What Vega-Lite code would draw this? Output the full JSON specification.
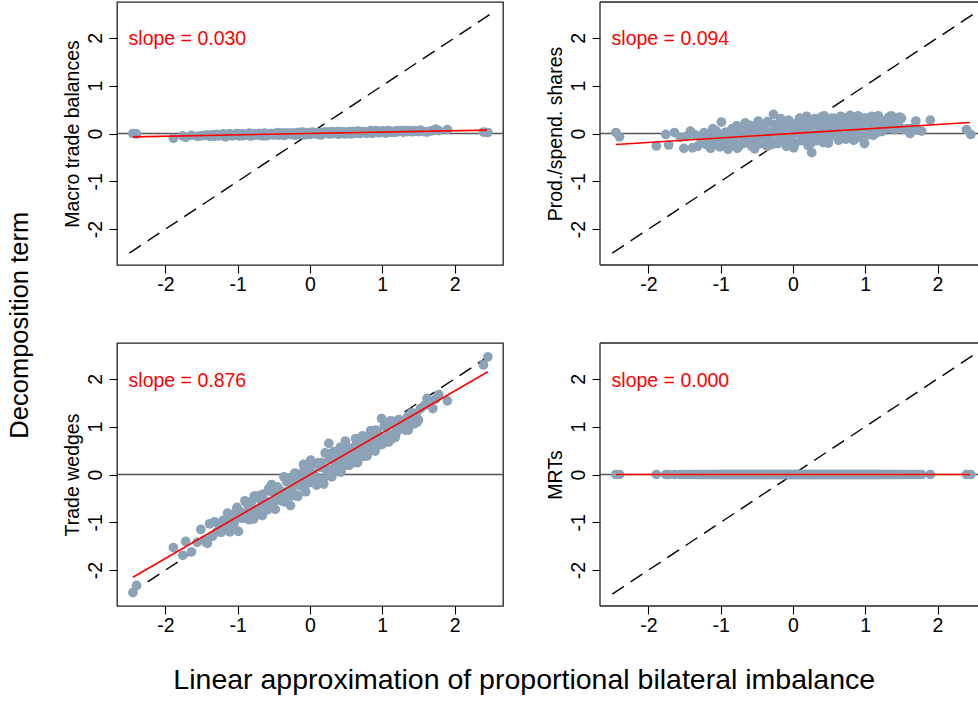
{
  "$schema": "https://vega.github.io/schema/vega-lite/v6.json",
  "padding": {"left": 7, "top": 1, "right": 0, "bottom": 4},
  "title": {"text": "Linear approximation of proportional bilateral imbalance", "orient": "bottom", "anchor": "middle", "fontSize": 28.5, "fontWeight": "normal", "font": "Liberation Sans", "color": "#000000", "offset": 31, "dx": 31},
  "datasets": {
    "pts": [
      {"x":-2.45,"a":0.00,"b":0.02,"c":-2.47,"d":0},
      {"x":-2.40,"a":-0.01,"b":-0.07,"c":-2.32,"d":0},
      {"x":-1.89,"a":-0.10,"b":-0.26,"c":-1.53,"d":0},
      {"x":-1.76,"a":-0.05,"b":-0.02,"c":-1.69,"d":0},
      {"x":-1.72,"a":-0.08,"b":-0.24,"c":-1.40,"d":0},
      {"x":-1.64,"a":-0.04,"b":0.02,"c":-1.62,"d":0},
      {"x":-1.56,"a":-0.06,"b":-0.08,"c":-1.42,"d":0},
      {"x":-1.51,"a":-0.05,"b":-0.31,"c":-1.15,"d":0},
      {"x":-1.46,"a":-0.04,"b":-0.05,"c":-1.37,"d":0},
      {"x":-1.42,"a":-0.03,"b":0.05,"c":-1.44,"d":0},
      {"x":-1.39,"a":-0.06,"b":-0.30,"c":-1.03,"d":0},
      {"x":-1.35,"a":-0.03,"b":-0.03,"c":-1.29,"d":0},
      {"x":-1.32,"a":-0.06,"b":-0.27,"c":-0.99,"d":0},
      {"x":-1.29,"a":-0.02,"b":-0.07,"c":-1.20,"d":0},
      {"x":-1.26,"a":-0.05,"b":-0.17,"c":-1.04,"d":0},
      {"x":-1.24,"a":-0.03,"b":-0.12,"c":-1.09,"d":0},
      {"x":-1.23,"a":-0.04,"b":0.02,"c":-1.21,"d":0},
      {"x":-1.20,"a":-0.01,"b":-0.23,"c":-0.96,"d":0},
      {"x":-1.18,"a":-0.05,"b":-0.03,"c":-1.10,"d":0},
      {"x":-1.17,"a":-0.07,"b":-0.09,"c":-1.01,"d":0},
      {"x":-1.14,"a":-0.02,"b":-0.31,"c":-0.81,"d":0},
      {"x":-1.12,"a":-0.01,"b":-0.21,"c":-0.90,"d":0},
      {"x":-1.11,"a":-0.01,"b":0.10,"c":-1.20,"d":0},
      {"x":-1.08,"a":-0.05,"b":-0.12,"c":-0.91,"d":0},
      {"x":-1.06,"a":-0.03,"b":0.05,"c":-1.08,"d":0},
      {"x":-1.05,"a":-0.03,"b":-0.02,"c":-1.00,"d":0},
      {"x":-1.02,"a":0.00,"b":-0.26,"c":-0.76,"d":0},
      {"x":-1.01,"a":-0.04,"b":-0.28,"c":-0.69,"d":0},
      {"x":-0.99,"a":-0.04,"b":0.24,"c":-1.19,"d":0},
      {"x":-0.98,"a":-0.05,"b":-0.15,"c":-0.78,"d":0},
      {"x":-0.96,"a":-0.01,"b":-0.17,"c":-0.78,"d":0},
      {"x":-0.95,"a":-0.01,"b":-0.03,"c":-0.91,"d":0},
      {"x":-0.93,"a":-0.05,"b":0.03,"c":-0.91,"d":0},
      {"x":-0.92,"a":-0.02,"b":0.01,"c":-0.91,"d":0},
      {"x":-0.90,"a":-0.02,"b":-0.33,"c":-0.55,"d":0},
      {"x":-0.89,"a":-0.03,"b":-0.29,"c":-0.57,"d":0},
      {"x":-0.87,"a":-0.03,"b":-0.04,"c":-0.80,"d":0},
      {"x":-0.86,"a":-0.01,"b":-0.22,"c":-0.63,"d":0},
      {"x":-0.84,"a":0.01,"b":0.10,"c":-0.95,"d":0},
      {"x":-0.83,"a":-0.05,"b":0.06,"c":-0.84,"d":0},
      {"x":-0.81,"a":-0.05,"b":-0.19,"c":-0.57,"d":0},
      {"x":-0.80,"a":-0.03,"b":-0.06,"c":-0.71,"d":0},
      {"x":-0.78,"a":-0.01,"b":0.16,"c":-0.93,"d":0},
      {"x":-0.77,"a":-0.01,"b":-0.31,"c":-0.45,"d":0},
      {"x":-0.75,"a":-0.03,"b":-0.27,"c":-0.45,"d":0},
      {"x":-0.74,"a":-0.02,"b":0.13,"c":-0.85,"d":0},
      {"x":-0.72,"a":0.00,"b":0.00,"c":-0.72,"d":0},
      {"x":-0.71,"a":0.00,"b":0.12,"c":-0.83,"d":0},
      {"x":-0.69,"a":-0.04,"b":-0.21,"c":-0.44,"d":0},
      {"x":-0.68,"a":0.00,"b":-0.14,"c":-0.54,"d":0},
      {"x":-0.66,"a":-0.02,"b":0.22,"c":-0.86,"d":0},
      {"x":-0.65,"a":-0.05,"b":-0.19,"c":-0.41,"d":0},
      {"x":-0.63,"a":0.01,"b":-0.09,"c":-0.55,"d":0},
      {"x":-0.62,"a":-0.03,"b":0.00,"c":-0.59,"d":0},
      {"x":-0.60,"a":-0.05,"b":0.09,"c":-0.64,"d":0},
      {"x":-0.59,"a":-0.02,"b":0.17,"c":-0.74,"d":0},
      {"x":-0.57,"a":-0.01,"b":-0.27,"c":-0.29,"d":0},
      {"x":-0.56,"a":-0.01,"b":-0.21,"c":-0.34,"d":0},
      {"x":-0.54,"a":0.00,"b":0.05,"c":-0.59,"d":0},
      {"x":-0.53,"a":0.00,"b":-0.32,"c":-0.21,"d":0},
      {"x":-0.51,"a":-0.03,"b":-0.12,"c":-0.36,"d":0},
      {"x":-0.50,"a":-0.02,"b":0.09,"c":-0.57,"d":0},
      {"x":-0.48,"a":-0.01,"b":0.26,"c":-0.73,"d":0},
      {"x":-0.47,"a":-0.02,"b":0.07,"c":-0.52,"d":0},
      {"x":-0.45,"a":0.02,"b":-0.21,"c":-0.26,"d":0},
      {"x":-0.44,"a":-0.03,"b":-0.05,"c":-0.36,"d":0},
      {"x":-0.42,"a":-0.03,"b":-0.03,"c":-0.36,"d":0},
      {"x":-0.41,"a":0.00,"b":-0.07,"c":-0.34,"d":0},
      {"x":-0.39,"a":0.00,"b":0.16,"c":-0.55,"d":0},
      {"x":-0.38,"a":0.01,"b":0.05,"c":-0.44,"d":0},
      {"x":-0.36,"a":-0.04,"b":-0.27,"c":-0.05,"d":0},
      {"x":-0.35,"a":-0.03,"b":0.25,"c":-0.57,"d":0},
      {"x":-0.33,"a":0.01,"b":0.03,"c":-0.37,"d":0},
      {"x":-0.32,"a":-0.01,"b":-0.15,"c":-0.16,"d":0},
      {"x":-0.30,"a":-0.01,"b":-0.15,"c":-0.14,"d":0},
      {"x":-0.29,"a":0.01,"b":-0.23,"c":-0.07,"d":0},
      {"x":-0.27,"a":-0.02,"b":0.40,"c":-0.65,"d":0},
      {"x":-0.26,"a":0.00,"b":0.19,"c":-0.45,"d":0},
      {"x":-0.24,"a":0.01,"b":0.15,"c":-0.40,"d":0},
      {"x":-0.23,"a":-0.01,"b":0.03,"c":-0.25,"d":0},
      {"x":-0.21,"a":-0.03,"b":-0.21,"c":0.03,"d":0},
      {"x":-0.20,"a":-0.03,"b":-0.02,"c":-0.15,"d":0},
      {"x":-0.18,"a":0.02,"b":0.23,"c":-0.43,"d":0},
      {"x":-0.17,"a":-0.02,"b":0.31,"c":-0.46,"d":0},
      {"x":-0.15,"a":-0.01,"b":-0.06,"c":-0.08,"d":0},
      {"x":-0.14,"a":0.02,"b":0.05,"c":-0.21,"d":0},
      {"x":-0.12,"a":0.01,"b":0.11,"c":-0.24,"d":0},
      {"x":-0.11,"a":0.03,"b":-0.15,"c":0.01,"d":0},
      {"x":-0.09,"a":-0.03,"b":-0.27,"c":0.21,"d":0},
      {"x":-0.08,"a":0.00,"b":-0.18,"c":0.10,"d":0},
      {"x":-0.06,"a":0.02,"b":0.28,"c":-0.36,"d":0},
      {"x":-0.05,"a":-0.02,"b":0.16,"c":-0.19,"d":0},
      {"x":-0.03,"a":0.00,"b":-0.10,"c":0.07,"d":0},
      {"x":-0.02,"a":-0.01,"b":0.10,"c":-0.11,"d":0},
      {"x":0.00,"a":-0.02,"b":0.19,"c":-0.17,"d":0},
      {"x":0.01,"a":0.01,"b":-0.30,"c":0.30,"d":0},
      {"x":0.03,"a":0.03,"b":-0.21,"c":0.21,"d":0},
      {"x":0.04,"a":0.02,"b":0.00,"c":0.02,"d":0},
      {"x":0.06,"a":0.01,"b":0.08,"c":-0.03,"d":0},
      {"x":0.07,"a":0.00,"b":0.23,"c":-0.16,"d":0},
      {"x":0.09,"a":-0.01,"b":0.32,"c":-0.22,"d":0},
      {"x":0.10,"a":0.00,"b":0.16,"c":-0.06,"d":0},
      {"x":0.12,"a":0.02,"b":-0.15,"c":0.25,"d":0},
      {"x":0.13,"a":-0.02,"b":-0.03,"c":0.18,"d":0},
      {"x":0.15,"a":-0.03,"b":0.03,"c":0.15,"d":0},
      {"x":0.16,"a":-0.01,"b":-0.08,"c":0.25,"d":0},
      {"x":0.18,"a":0.02,"b":0.26,"c":-0.10,"d":0},
      {"x":0.19,"a":0.03,"b":0.36,"c":-0.20,"d":0},
      {"x":0.21,"a":0.01,"b":-0.25,"c":0.45,"d":0},
      {"x":0.22,"a":0.03,"b":0.07,"c":0.12,"d":0},
      {"x":0.24,"a":0.03,"b":0.15,"c":0.06,"d":0},
      {"x":0.25,"a":0.02,"b":-0.20,"c":0.43,"d":0},
      {"x":0.26,"a":0.01,"b":-0.40,"c":0.65,"d":0},
      {"x":0.27,"a":-0.01,"b":-0.03,"c":0.31,"d":0},
      {"x":0.28,"a":0.01,"b":0.25,"c":0.02,"d":0},
      {"x":0.30,"a":0.04,"b":0.31,"c":-0.05,"d":0},
      {"x":0.31,"a":0.00,"b":0.20,"c":0.11,"d":0},
      {"x":0.33,"a":0.00,"b":-0.15,"c":0.48,"d":0},
      {"x":0.34,"a":0.02,"b":0.00,"c":0.32,"d":0},
      {"x":0.36,"a":0.02,"b":0.12,"c":0.22,"d":0},
      {"x":0.37,"a":0.04,"b":-0.06,"c":0.39,"d":0},
      {"x":0.39,"a":-0.01,"b":0.34,"c":0.06,"d":0},
      {"x":0.40,"a":-0.01,"b":0.17,"c":0.24,"d":0},
      {"x":0.42,"a":0.04,"b":-0.19,"c":0.57,"d":0},
      {"x":0.43,"a":0.01,"b":0.37,"c":0.05,"d":0},
      {"x":0.45,"a":0.01,"b":0.08,"c":0.36,"d":0},
      {"x":0.46,"a":0.03,"b":-0.07,"c":0.50,"d":0},
      {"x":0.48,"a":0.03,"b":0.26,"c":0.19,"d":0},
      {"x":0.49,"a":-0.01,"b":-0.20,"c":0.70,"d":0},
      {"x":0.51,"a":0.01,"b":-0.07,"c":0.57,"d":0},
      {"x":0.52,"a":0.02,"b":0.12,"c":0.38,"d":0},
      {"x":0.54,"a":0.03,"b":0.32,"c":0.19,"d":0},
      {"x":0.55,"a":0.04,"b":0.17,"c":0.34,"d":0},
      {"x":0.57,"a":-0.01,"b":0.03,"c":0.55,"d":0},
      {"x":0.58,"a":0.03,"b":0.31,"c":0.24,"d":0},
      {"x":0.60,"a":0.04,"b":0.22,"c":0.34,"d":0},
      {"x":0.61,"a":0.03,"b":0.05,"c":0.53,"d":0},
      {"x":0.63,"a":0.02,"b":-0.14,"c":0.75,"d":0},
      {"x":0.64,"a":0.01,"b":0.01,"c":0.62,"d":0},
      {"x":0.66,"a":0.05,"b":0.36,"c":0.25,"d":0},
      {"x":0.67,"a":0.01,"b":0.30,"c":0.36,"d":0},
      {"x":0.69,"a":0.00,"b":0.14,"c":0.55,"d":0},
      {"x":0.70,"a":0.04,"b":0.25,"c":0.41,"d":0},
      {"x":0.72,"a":0.03,"b":-0.08,"c":0.77,"d":0},
      {"x":0.73,"a":0.04,"b":-0.12,"c":0.81,"d":0},
      {"x":0.75,"a":0.04,"b":0.33,"c":0.38,"d":0},
      {"x":0.76,"a":0.02,"b":0.11,"c":0.63,"d":0},
      {"x":0.78,"a":0.01,"b":-0.01,"c":0.78,"d":0},
      {"x":0.79,"a":0.02,"b":0.38,"c":0.39,"d":0},
      {"x":0.81,"a":0.02,"b":0.27,"c":0.52,"d":0},
      {"x":0.82,"a":0.04,"b":0.29,"c":0.49,"d":0},
      {"x":0.84,"a":0.06,"b":-0.14,"c":0.92,"d":0},
      {"x":0.85,"a":0.01,"b":0.11,"c":0.73,"d":0},
      {"x":0.87,"a":0.01,"b":0.18,"c":0.68,"d":0},
      {"x":0.88,"a":0.03,"b":0.02,"c":0.83,"d":0},
      {"x":0.90,"a":0.04,"b":0.37,"c":0.49,"d":0},
      {"x":0.91,"a":0.06,"b":-0.08,"c":0.93,"d":0},
      {"x":0.93,"a":0.05,"b":-0.03,"c":0.91,"d":0},
      {"x":0.94,"a":0.02,"b":0.18,"c":0.74,"d":0},
      {"x":0.96,"a":0.02,"b":0.14,"c":0.80,"d":0},
      {"x":0.97,"a":0.04,"b":0.31,"c":0.62,"d":0},
      {"x":0.99,"a":0.03,"b":-0.21,"c":1.17,"d":0},
      {"x":1.00,"a":0.05,"b":0.32,"c":0.63,"d":0},
      {"x":1.02,"a":0.05,"b":0.30,"c":0.67,"d":0},
      {"x":1.03,"a":0.03,"b":-0.03,"c":1.03,"d":0},
      {"x":1.05,"a":0.01,"b":0.05,"c":0.99,"d":0},
      {"x":1.06,"a":0.03,"b":-0.02,"c":1.05,"d":0},
      {"x":1.08,"a":0.06,"b":0.22,"c":0.80,"d":0},
      {"x":1.09,"a":0.05,"b":0.36,"c":0.68,"d":0},
      {"x":1.11,"a":0.03,"b":-0.04,"c":1.12,"d":0},
      {"x":1.12,"a":0.04,"b":0.24,"c":0.84,"d":0},
      {"x":1.14,"a":0.04,"b":0.35,"c":0.75,"d":0},
      {"x":1.15,"a":0.03,"b":0.01,"c":1.11,"d":0},
      {"x":1.17,"a":0.03,"b":0.11,"c":1.03,"d":0},
      {"x":1.18,"a":0.03,"b":0.37,"c":0.78,"d":0},
      {"x":1.20,"a":0.06,"b":0.25,"c":0.89,"d":0},
      {"x":1.23,"a":0.04,"b":0.04,"c":1.15,"d":0},
      {"x":1.24,"a":0.05,"b":0.06,"c":1.13,"d":0},
      {"x":1.26,"a":0.06,"b":0.20,"c":1.00,"d":0},
      {"x":1.29,"a":0.03,"b":0.28,"c":0.98,"d":0},
      {"x":1.30,"a":0.04,"b":0.18,"c":1.08,"d":0},
      {"x":1.32,"a":0.06,"b":0.33,"c":0.93,"d":0},
      {"x":1.35,"a":0.04,"b":0.10,"c":1.21,"d":0},
      {"x":1.36,"a":0.06,"b":0.37,"c":0.93,"d":0},
      {"x":1.38,"a":0.05,"b":0.21,"c":1.12,"d":0},
      {"x":1.41,"a":0.04,"b":0.08,"c":1.29,"d":0},
      {"x":1.42,"a":0.04,"b":0.28,"c":1.10,"d":0},
      {"x":1.44,"a":0.06,"b":0.32,"c":1.06,"d":0},
      {"x":1.47,"a":0.05,"b":0.14,"c":1.28,"d":0},
      {"x":1.48,"a":0.05,"b":0.34,"c":1.09,"d":0},
      {"x":1.50,"a":0.04,"b":0.32,"c":1.14,"d":0},
      {"x":1.53,"a":0.07,"b":0.08,"c":1.38,"d":0},
      {"x":1.58,"a":0.04,"b":0.10,"c":1.44,"d":0},
      {"x":1.62,"a":0.03,"b":0.00,"c":1.59,"d":0},
      {"x":1.66,"a":0.05,"b":0.12,"c":1.49,"d":0},
      {"x":1.70,"a":0.06,"b":0.26,"c":1.38,"d":0},
      {"x":1.74,"a":0.09,"b":0.07,"c":1.58,"d":0},
      {"x":1.78,"a":0.06,"b":0.05,"c":1.67,"d":0},
      {"x":1.90,"a":0.08,"b":0.28,"c":1.54,"d":0},
      {"x":2.40,"a":0.03,"b":0.08,"c":2.29,"d":0},
      {"x":2.46,"a":0.02,"b":-0.02,"c":2.46,"d":0}
    ],
    "diag": [{"x":-2.5,"y":-2.5},{"x":2.5,"y":2.5}],
    "fitA": [{"x":-2.45,"y":-0.07},{"x":2.45,"y":0.07}],
    "fitB": [{"x":-2.45,"y":-0.23},{"x":2.45,"y":0.23}],
    "fitC": [{"x":-2.45,"y":-2.15},{"x":2.46,"y":2.15}],
    "fitD": [{"x":-2.45,"y":0},{"x":2.45,"y":0}],
    "one": [{"label":"slope = 0.030"}],
    "two": [{"label":"slope = 0.094"}],
    "three": [{"label":"slope = 0.876"}],
    "four": [{"label":"slope = 0.000"}],
    "blank": [{}]
  },
  "vconcat": [
    {
      "title": {"text": "Decomposition term", "orient": "left", "anchor": "middle", "fontSize": 25.5, "fontWeight": "normal", "font": "Liberation Sans", "color": "#000000", "offset": 28, "dx": -7},
      "concat": [
        {
          "width": 386, "height": 263,
          "layer": [
            {"data": {"name": "blank"}, "mark": {"type": "rule", "color": "#555555", "strokeWidth": 1.3}, "encoding": {"y": {"datum": 0, "type": "quantitative", "scale": {"domain": [-2.75, 2.75], "nice": false, "zero": false}, "axis": {"values": [-2, -1, 0, 1, 2], "title": "Macro trade balances", "labelExpr": "replace(datum.label, '\u2212', '-')"}}}},
            {"data": {"name": "diag"}, "mark": {"type": "line", "color": "#000000", "strokeWidth": 1.4, "strokeDash": [14, 8]}, "encoding": {"x": {"field": "x", "type": "quantitative", "scale": {"domain": [-2.67, 2.67], "nice": false, "zero": false}, "axis": {"values": [-2, -1, 0, 1, 2], "title": null, "labelExpr": "replace(datum.label, '\u2212', '-')"}}, "y": {"field": "y", "type": "quantitative", "scale": {"domain": [-2.75, 2.75], "nice": false, "zero": false}, "axis": {"values": [-2, -1, 0, 1, 2], "title": "Macro trade balances", "labelExpr": "replace(datum.label, '\u2212', '-')"}}}},
            {"data": {"name": "pts"}, "mark": {"type": "circle", "size": 95, "color": "#8CA2B7", "opacity": 1}, "encoding": {"x": {"field": "x", "type": "quantitative", "scale": {"domain": [-2.67, 2.67], "nice": false, "zero": false}, "axis": {"values": [-2, -1, 0, 1, 2], "title": null, "labelExpr": "replace(datum.label, '\u2212', '-')"}}, "y": {"field": "a", "type": "quantitative", "scale": {"domain": [-2.75, 2.75], "nice": false, "zero": false}, "axis": {"values": [-2, -1, 0, 1, 2], "title": "Macro trade balances", "labelExpr": "replace(datum.label, '\u2212', '-')"}}}},
            {"data": {"name": "fitA"}, "mark": {"type": "line", "color": "#FF0000", "strokeWidth": 1.6}, "encoding": {"x": {"field": "x", "type": "quantitative", "scale": {"domain": [-2.67, 2.67], "nice": false, "zero": false}, "axis": {"values": [-2, -1, 0, 1, 2], "title": null, "labelExpr": "replace(datum.label, '\u2212', '-')"}}, "y": {"field": "y", "type": "quantitative", "scale": {"domain": [-2.75, 2.75], "nice": false, "zero": false}, "axis": {"values": [-2, -1, 0, 1, 2], "title": "Macro trade balances", "labelExpr": "replace(datum.label, '\u2212', '-')"}}}},
            {"data": {"name": "one"}, "mark": {"type": "text", "color": "#FF0000", "fontSize": 19.5, "font": "Liberation Sans", "align": "left", "baseline": "alphabetic"}, "encoding": {"x": {"datum": -2.51, "type": "quantitative", "scale": {"domain": [-2.67, 2.67], "nice": false, "zero": false}, "axis": {"values": [-2, -1, 0, 1, 2], "title": null, "labelExpr": "replace(datum.label, '\u2212', '-')"}}, "y": {"datum": 1.85, "type": "quantitative", "scale": {"domain": [-2.75, 2.75], "nice": false, "zero": false}, "axis": {"values": [-2, -1, 0, 1, 2], "title": "Macro trade balances", "labelExpr": "replace(datum.label, '\u2212', '-')"}}, "text": {"field": "label"}}}
          ]
        },
        {
          "width": 378, "height": 263,
          "view": {"stroke": null},
          "layer": [
            {"data": {"name": "blank"}, "mark": {"type": "rule", "color": "#222222", "strokeWidth": 1.3}, "encoding": {"y": {"datum": 2.75, "type": "quantitative", "scale": {"domain": [-2.75, 2.75], "nice": false, "zero": false}, "axis": {"values": [-2, -1, 0, 1, 2], "title": "Prod./spend. shares", "labelExpr": "replace(datum.label, '\u2212', '-')"}}}},
            {"data": {"name": "blank"}, "mark": {"type": "rule", "color": "#222222", "strokeWidth": 1.3}, "encoding": {"y": {"datum": -2.75, "type": "quantitative", "scale": {"domain": [-2.75, 2.75], "nice": false, "zero": false}, "axis": {"values": [-2, -1, 0, 1, 2], "title": "Prod./spend. shares", "labelExpr": "replace(datum.label, '\u2212', '-')"}}}},
            {"data": {"name": "blank"}, "mark": {"type": "rule", "color": "#222222", "strokeWidth": 1.3}, "encoding": {"x": {"datum": -2.67, "type": "quantitative", "scale": {"domain": [-2.67, 2.56], "nice": false, "zero": false}, "axis": {"values": [-2, -1, 0, 1, 2], "title": null, "labelExpr": "replace(datum.label, '\u2212', '-')"}}}},
            {"data": {"name": "blank"}, "mark": {"type": "rule", "color": "#555555", "strokeWidth": 1.3}, "encoding": {"y": {"datum": 0, "type": "quantitative", "scale": {"domain": [-2.75, 2.75], "nice": false, "zero": false}, "axis": {"values": [-2, -1, 0, 1, 2], "title": "Prod./spend. shares", "labelExpr": "replace(datum.label, '\u2212', '-')"}}}},
            {"data": {"name": "diag"}, "mark": {"type": "line", "color": "#000000", "strokeWidth": 1.4, "strokeDash": [14, 8]}, "encoding": {"x": {"field": "x", "type": "quantitative", "scale": {"domain": [-2.67, 2.56], "nice": false, "zero": false}, "axis": {"values": [-2, -1, 0, 1, 2], "title": null, "labelExpr": "replace(datum.label, '\u2212', '-')"}}, "y": {"field": "y", "type": "quantitative", "scale": {"domain": [-2.75, 2.75], "nice": false, "zero": false}, "axis": {"values": [-2, -1, 0, 1, 2], "title": "Prod./spend. shares", "labelExpr": "replace(datum.label, '\u2212', '-')"}}}},
            {"data": {"name": "pts"}, "mark": {"type": "circle", "size": 95, "color": "#8CA2B7", "opacity": 1}, "encoding": {"x": {"field": "x", "type": "quantitative", "scale": {"domain": [-2.67, 2.56], "nice": false, "zero": false}, "axis": {"values": [-2, -1, 0, 1, 2], "title": null, "labelExpr": "replace(datum.label, '\u2212', '-')"}}, "y": {"field": "b", "type": "quantitative", "scale": {"domain": [-2.75, 2.75], "nice": false, "zero": false}, "axis": {"values": [-2, -1, 0, 1, 2], "title": "Prod./spend. shares", "labelExpr": "replace(datum.label, '\u2212', '-')"}}}},
            {"data": {"name": "fitB"}, "mark": {"type": "line", "color": "#FF0000", "strokeWidth": 1.6}, "encoding": {"x": {"field": "x", "type": "quantitative", "scale": {"domain": [-2.67, 2.56], "nice": false, "zero": false}, "axis": {"values": [-2, -1, 0, 1, 2], "title": null, "labelExpr": "replace(datum.label, '\u2212', '-')"}}, "y": {"field": "y", "type": "quantitative", "scale": {"domain": [-2.75, 2.75], "nice": false, "zero": false}, "axis": {"values": [-2, -1, 0, 1, 2], "title": "Prod./spend. shares", "labelExpr": "replace(datum.label, '\u2212', '-')"}}}},
            {"data": {"name": "two"}, "mark": {"type": "text", "color": "#FF0000", "fontSize": 19.5, "font": "Liberation Sans", "align": "left", "baseline": "alphabetic"}, "encoding": {"x": {"datum": -2.51, "type": "quantitative", "scale": {"domain": [-2.67, 2.56], "nice": false, "zero": false}, "axis": {"values": [-2, -1, 0, 1, 2], "title": null, "labelExpr": "replace(datum.label, '\u2212', '-')"}}, "y": {"datum": 1.85, "type": "quantitative", "scale": {"domain": [-2.75, 2.75], "nice": false, "zero": false}, "axis": {"values": [-2, -1, 0, 1, 2], "title": "Prod./spend. shares", "labelExpr": "replace(datum.label, '\u2212', '-')"}}, "text": {"field": "label"}}}
          ]
        },
        {
          "width": 386, "height": 263,
          "layer": [
            {"data": {"name": "blank"}, "mark": {"type": "rule", "color": "#555555", "strokeWidth": 1.3}, "encoding": {"y": {"datum": 0, "type": "quantitative", "scale": {"domain": [-2.75, 2.75], "nice": false, "zero": false}, "axis": {"values": [-2, -1, 0, 1, 2], "title": "Trade wedges", "labelExpr": "replace(datum.label, '\u2212', '-')"}}}},
            {"data": {"name": "diag"}, "mark": {"type": "line", "color": "#000000", "strokeWidth": 1.4, "strokeDash": [14, 8]}, "encoding": {"x": {"field": "x", "type": "quantitative", "scale": {"domain": [-2.67, 2.67], "nice": false, "zero": false}, "axis": {"values": [-2, -1, 0, 1, 2], "title": null, "labelExpr": "replace(datum.label, '\u2212', '-')"}}, "y": {"field": "y", "type": "quantitative", "scale": {"domain": [-2.75, 2.75], "nice": false, "zero": false}, "axis": {"values": [-2, -1, 0, 1, 2], "title": "Trade wedges", "labelExpr": "replace(datum.label, '\u2212', '-')"}}}},
            {"data": {"name": "pts"}, "mark": {"type": "circle", "size": 95, "color": "#8CA2B7", "opacity": 1}, "encoding": {"x": {"field": "x", "type": "quantitative", "scale": {"domain": [-2.67, 2.67], "nice": false, "zero": false}, "axis": {"values": [-2, -1, 0, 1, 2], "title": null, "labelExpr": "replace(datum.label, '\u2212', '-')"}}, "y": {"field": "c", "type": "quantitative", "scale": {"domain": [-2.75, 2.75], "nice": false, "zero": false}, "axis": {"values": [-2, -1, 0, 1, 2], "title": "Trade wedges", "labelExpr": "replace(datum.label, '\u2212', '-')"}}}},
            {"data": {"name": "fitC"}, "mark": {"type": "line", "color": "#FF0000", "strokeWidth": 1.6}, "encoding": {"x": {"field": "x", "type": "quantitative", "scale": {"domain": [-2.67, 2.67], "nice": false, "zero": false}, "axis": {"values": [-2, -1, 0, 1, 2], "title": null, "labelExpr": "replace(datum.label, '\u2212', '-')"}}, "y": {"field": "y", "type": "quantitative", "scale": {"domain": [-2.75, 2.75], "nice": false, "zero": false}, "axis": {"values": [-2, -1, 0, 1, 2], "title": "Trade wedges", "labelExpr": "replace(datum.label, '\u2212', '-')"}}}},
            {"data": {"name": "three"}, "mark": {"type": "text", "color": "#FF0000", "fontSize": 19.5, "font": "Liberation Sans", "align": "left", "baseline": "alphabetic"}, "encoding": {"x": {"datum": -2.51, "type": "quantitative", "scale": {"domain": [-2.67, 2.67], "nice": false, "zero": false}, "axis": {"values": [-2, -1, 0, 1, 2], "title": null, "labelExpr": "replace(datum.label, '\u2212', '-')"}}, "y": {"datum": 1.84, "type": "quantitative", "scale": {"domain": [-2.75, 2.75], "nice": false, "zero": false}, "axis": {"values": [-2, -1, 0, 1, 2], "title": "Trade wedges", "labelExpr": "replace(datum.label, '\u2212', '-')"}}, "text": {"field": "label"}}}
          ]
        },
        {
          "width": 378, "height": 263,
          "view": {"stroke": null},
          "layer": [
            {"data": {"name": "blank"}, "mark": {"type": "rule", "color": "#222222", "strokeWidth": 1.3}, "encoding": {"y": {"datum": 2.75, "type": "quantitative", "scale": {"domain": [-2.75, 2.75], "nice": false, "zero": false}, "axis": {"values": [-2, -1, 0, 1, 2], "title": "MRTs", "labelExpr": "replace(datum.label, '\u2212', '-')"}}}},
            {"data": {"name": "blank"}, "mark": {"type": "rule", "color": "#222222", "strokeWidth": 1.3}, "encoding": {"y": {"datum": -2.75, "type": "quantitative", "scale": {"domain": [-2.75, 2.75], "nice": false, "zero": false}, "axis": {"values": [-2, -1, 0, 1, 2], "title": "MRTs", "labelExpr": "replace(datum.label, '\u2212', '-')"}}}},
            {"data": {"name": "blank"}, "mark": {"type": "rule", "color": "#222222", "strokeWidth": 1.3}, "encoding": {"x": {"datum": -2.67, "type": "quantitative", "scale": {"domain": [-2.67, 2.56], "nice": false, "zero": false}, "axis": {"values": [-2, -1, 0, 1, 2], "title": null, "labelExpr": "replace(datum.label, '\u2212', '-')"}}}},
            {"data": {"name": "blank"}, "mark": {"type": "rule", "color": "#555555", "strokeWidth": 1.3}, "encoding": {"y": {"datum": 0, "type": "quantitative", "scale": {"domain": [-2.75, 2.75], "nice": false, "zero": false}, "axis": {"values": [-2, -1, 0, 1, 2], "title": "MRTs", "labelExpr": "replace(datum.label, '\u2212', '-')"}}}},
            {"data": {"name": "diag"}, "mark": {"type": "line", "color": "#000000", "strokeWidth": 1.4, "strokeDash": [14, 8]}, "encoding": {"x": {"field": "x", "type": "quantitative", "scale": {"domain": [-2.67, 2.56], "nice": false, "zero": false}, "axis": {"values": [-2, -1, 0, 1, 2], "title": null, "labelExpr": "replace(datum.label, '\u2212', '-')"}}, "y": {"field": "y", "type": "quantitative", "scale": {"domain": [-2.75, 2.75], "nice": false, "zero": false}, "axis": {"values": [-2, -1, 0, 1, 2], "title": "MRTs", "labelExpr": "replace(datum.label, '\u2212', '-')"}}}},
            {"data": {"name": "pts"}, "mark": {"type": "circle", "size": 95, "color": "#8CA2B7", "opacity": 1}, "encoding": {"x": {"field": "x", "type": "quantitative", "scale": {"domain": [-2.67, 2.56], "nice": false, "zero": false}, "axis": {"values": [-2, -1, 0, 1, 2], "title": null, "labelExpr": "replace(datum.label, '\u2212', '-')"}}, "y": {"field": "d", "type": "quantitative", "scale": {"domain": [-2.75, 2.75], "nice": false, "zero": false}, "axis": {"values": [-2, -1, 0, 1, 2], "title": "MRTs", "labelExpr": "replace(datum.label, '\u2212', '-')"}}}},
            {"data": {"name": "fitD"}, "mark": {"type": "line", "color": "#FF0000", "strokeWidth": 1.6}, "encoding": {"x": {"field": "x", "type": "quantitative", "scale": {"domain": [-2.67, 2.56], "nice": false, "zero": false}, "axis": {"values": [-2, -1, 0, 1, 2], "title": null, "labelExpr": "replace(datum.label, '\u2212', '-')"}}, "y": {"field": "y", "type": "quantitative", "scale": {"domain": [-2.75, 2.75], "nice": false, "zero": false}, "axis": {"values": [-2, -1, 0, 1, 2], "title": "MRTs", "labelExpr": "replace(datum.label, '\u2212', '-')"}}}},
            {"data": {"name": "four"}, "mark": {"type": "text", "color": "#FF0000", "fontSize": 19.5, "font": "Liberation Sans", "align": "left", "baseline": "alphabetic"}, "encoding": {"x": {"datum": -2.51, "type": "quantitative", "scale": {"domain": [-2.67, 2.56], "nice": false, "zero": false}, "axis": {"values": [-2, -1, 0, 1, 2], "title": null, "labelExpr": "replace(datum.label, '\u2212', '-')"}}, "y": {"datum": 1.84, "type": "quantitative", "scale": {"domain": [-2.75, 2.75], "nice": false, "zero": false}, "axis": {"values": [-2, -1, 0, 1, 2], "title": "MRTs", "labelExpr": "replace(datum.label, '\u2212', '-')"}}, "text": {"field": "label"}}}
          ]
        }
      ],
      "columns": 2,
      "spacing": {"row": 78, "column": 97},
      "bounds": "flush"
    }
  ],
  "config": {
    "font": "Liberation Sans",
    "background": "#ffffff",
    "view": {"stroke": "#222222", "strokeWidth": 1.3},
    "axis": {"domain": false, "grid": false, "ticks": true, "tickSize": 8, "tickColor": "#000000", "tickWidth": 1.1, "labelFont": "Liberation Sans", "labelFontSize": 19.5, "labelColor": "#000000", "titleFont": "Liberation Sans", "titleFontSize": 19.5, "titleFontWeight": "normal", "titleColor": "#000000"},
    "axisX": {"labelPadding": 2},
    "axisY": {"labelAngle": -90, "labelPadding": 4, "titlePadding": 3}
  }
}
